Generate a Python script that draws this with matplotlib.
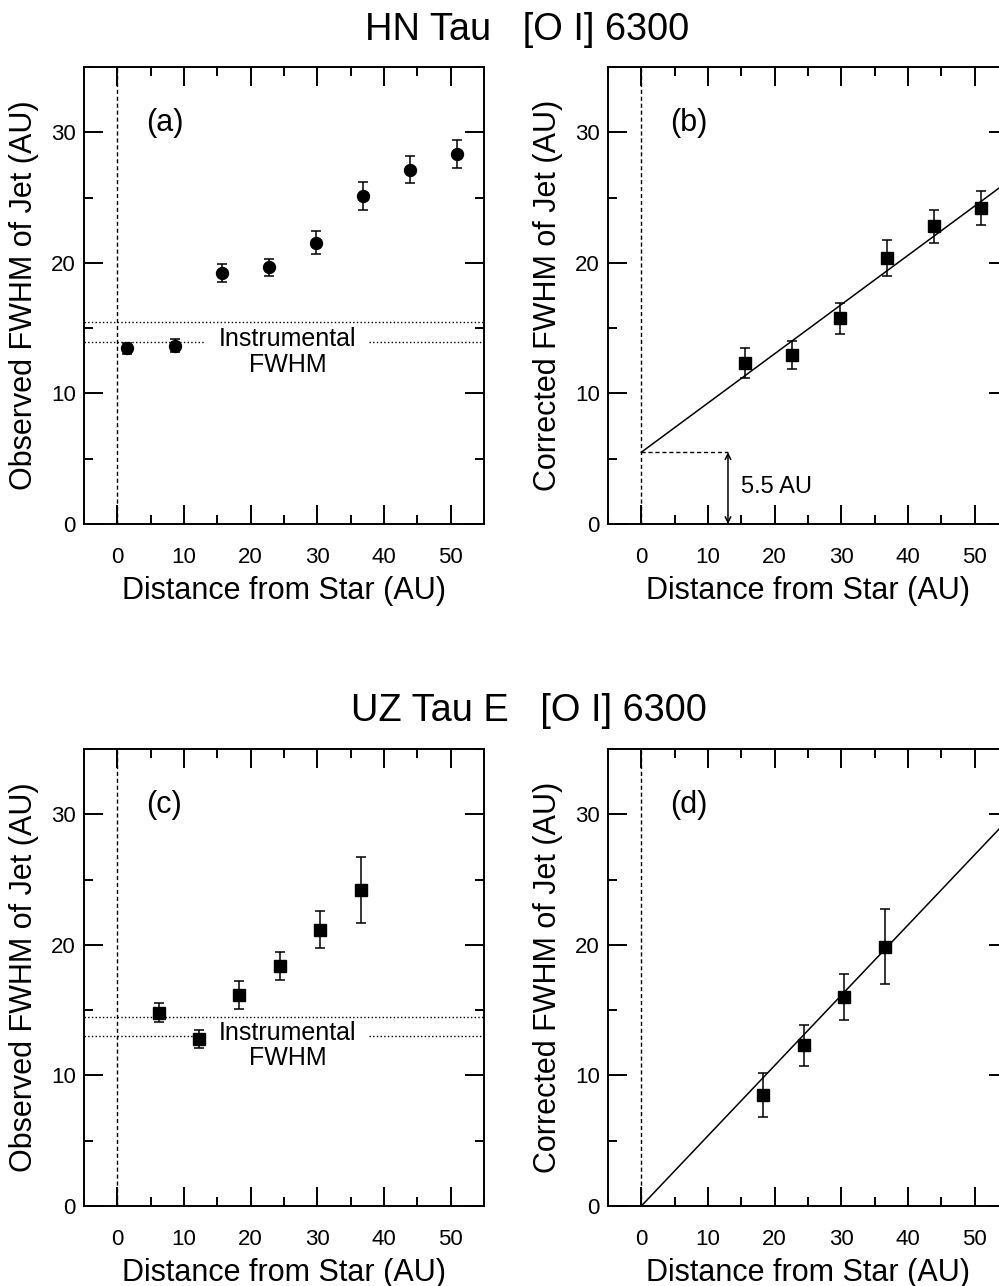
import numpy as np
import matplotlib.pyplot as plt
from matplotlib.ticker import MultipleLocator

plt.rcParams['font.family'] = ['Liberation Sans', 'DejaVu Sans']

# HN Tau, observed (a) and corrected (b)
hn_dist = [1.4, 8.6, 15.7, 22.7, 29.8, 36.8, 43.9, 51.0]
hn_obs = [13.45, 13.65, 19.25, 19.65, 21.55, 25.15, 27.15, 28.35]
hn_obs_err = [0.45, 0.5, 0.68, 0.66, 0.86, 1.08, 1.07, 1.07]
hn_instr = [15.45, 13.95]

hn_corr_dist = [15.6, 22.6, 29.8, 36.8, 43.9, 51.0]
hn_corr = [12.35, 12.95, 15.75, 20.4, 22.8, 24.2]
hn_corr_err = [1.15, 1.06, 1.21, 1.37, 1.28, 1.28]
hn_fit = [0.377, 5.5]   # slope, intercept

# UZ Tau E, observed (c) and corrected (d)
uz_dist = [6.2, 12.2, 18.3, 24.4, 30.4, 36.6]
uz_obs = [14.8, 12.8, 16.15, 18.4, 21.15, 24.2]
uz_obs_err = [0.71, 0.7, 1.07, 1.06, 1.43, 2.49]
uz_instr = [14.5, 13.0]

uz_corr_dist = [18.3, 24.4, 30.4, 36.6]
uz_corr = [8.5, 12.3, 16.0, 19.85]
uz_corr_err = [1.71, 1.56, 1.79, 2.86]
uz_fit = [0.538, 0.0]


def setup_axes(ax, ylabel, letter):
    ax.set_xlim(-5, 55)
    ax.set_ylim(0, 35)
    ax.xaxis.set_major_locator(MultipleLocator(10))
    ax.xaxis.set_minor_locator(MultipleLocator(5))
    ax.yaxis.set_major_locator(MultipleLocator(10))
    ax.yaxis.set_minor_locator(MultipleLocator(5))
    ax.tick_params(which='both', direction='in', top=True, right=True, width=1.4, labelsize=16)
    ax.tick_params(which='major', length=14)
    ax.tick_params(which='minor', length=6.5)
    ax.tick_params(axis='x', pad=16.5)
    ax.tick_params(axis='y', pad=6)
    for s in ax.spines.values():
        s.set_linewidth(1.4)
    ax.set_xlabel('Distance from Star (AU)', fontsize=22)
    ax.set_ylabel(ylabel, fontsize=22)
    ax.xaxis.set_label_coords(0.5, -0.113)
    ax.yaxis.set_label_coords(-0.112, 0.5)
    ax.axvline(0, color='black', lw=1, ls=(0, (3, 2)))
    ax.text(4.3, 30.7, letter, fontsize=22, ha='left', va='center')


def instr_lines(ax, levels, ytop, ybot):
    ax.hlines(levels[0], -5, 55, colors='black', lw=1, linestyles=':')
    ax.hlines(levels[1], -5, 13.1, colors='black', lw=1, linestyles=':')
    ax.hlines(levels[1], 37.8, 55, colors='black', lw=1, linestyles=':')
    ax.text(25.5, ytop, 'Instrumental', fontsize=18, ha='center', va='center')
    ax.text(25.5, ybot, 'FWHM', fontsize=18, ha='center', va='center')


fig = plt.figure(figsize=(9.99, 12.86), dpi=100)

w, h = 0.4004, 0.3554
ax_a = fig.add_axes([0.0841, 0.5925, w, h])
ax_b = fig.add_axes([0.6086, 0.5925, w, h])
ax_c = fig.add_axes([0.0841, 0.0622, w, h])
ax_d = fig.add_axes([0.6086, 0.0622, w, h])

# (a)
setup_axes(ax_a, 'Observed FWHM of Jet (AU)', '(a)')
instr_lines(ax_a, hn_instr, 14.15, 12.2)
ax_a.errorbar(hn_dist, hn_obs, yerr=hn_obs_err, fmt='o', color='black', ms=8.6,
              elinewidth=1.1, capsize=3.6, capthick=1.1)

# (b)
setup_axes(ax_b, 'Corrected FWHM of Jet (AU)', '(b)')
xx = np.array([0, 60])
ax_b.plot(xx, hn_fit[0] * xx + hn_fit[1], color='black', lw=1.1)
ax_b.errorbar(hn_corr_dist, hn_corr, yerr=hn_corr_err, fmt='s', color='black', ms=8.6,
              elinewidth=1.1, capsize=3.6, capthick=1.1)
ax_b.hlines(hn_fit[1], 0, 13, colors='black', lw=1, linestyles=(0, (3, 2)))
ax_b.annotate('', xy=(13, 0), xytext=(13, hn_fit[1]),
              arrowprops=dict(arrowstyle='<->', color='black', lw=1.1, shrinkA=0, shrinkB=0))
ax_b.text(15.0, 2.86, '5.5 AU', fontsize=17, ha='left', va='center')

# (c)
setup_axes(ax_c, 'Observed FWHM of Jet (AU)', '(c)')
instr_lines(ax_c, uz_instr, 13.26, 11.3)
ax_c.errorbar(uz_dist, uz_obs, yerr=uz_obs_err, fmt='s', color='black', ms=8.6,
              elinewidth=1.1, capsize=3.6, capthick=1.1)

# (d)
setup_axes(ax_d, 'Corrected FWHM of Jet (AU)', '(d)')
ax_d.plot(xx, uz_fit[0] * xx + uz_fit[1], color='black', lw=1.1)
ax_d.errorbar(uz_corr_dist, uz_corr, yerr=uz_corr_err, fmt='s', color='black', ms=8.6,
              elinewidth=1.1, capsize=3.6, capthick=1.1)

fig.text(0.528, 0.9767, 'HN Tau   [O I] 6300', fontsize=27.4, ha='center', va='center')
fig.text(0.529, 0.4471, 'UZ Tau E   [O I] 6300', fontsize=27.4, ha='center', va='center')

fig.savefig('out.png', dpi=100)
